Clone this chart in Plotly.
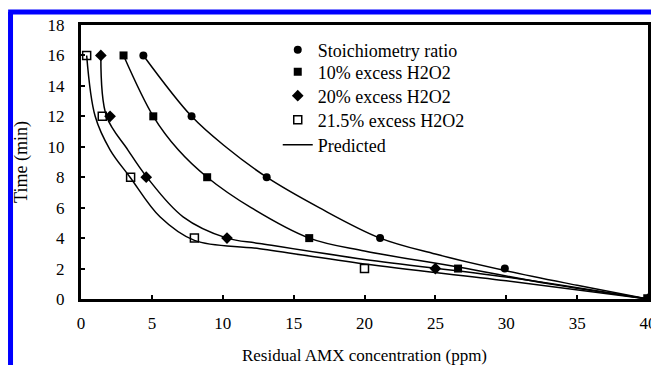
import plotly.graph_objects as go

# Measured data (residual AMX concentration in ppm, time in min)
stoich_c = [4.4, 7.8, 13.1, 21.1, 29.9, 40.0]
stoich_t = [16, 12, 8, 4, 2, 0]
ex10_c = [3.0, 5.1, 8.9, 16.1, 26.6, 40.0]
ex10_t = [16, 12, 8, 4, 2, 0]
ex20_c = [1.4, 2.05, 4.6, 10.3, 25.0, 40.0]
ex20_t = [16, 12, 8, 4, 2, 0]
ex215_c = [0.4, 1.5, 3.5, 8.0, 20.0, 40.0]
ex215_t = [16, 12, 8, 4, 2, 0]

# Predicted curves
pred_s_c = [4.4, 7.8, 10.2, 13.1, 16.8, 21.1, 25, 30, 35, 40]
pred_s_t = [16, 12, 10, 8, 6, 4, 2.95, 1.85, 0.9, 0]
pred_10_c = [3.0, 5.1, 6.86, 8.9, 12, 16.1, 20, 26.6, 33, 40]
pred_10_t = [16, 12, 9.8, 8, 6, 4, 3.15, 2.1, 1.0, 0]
pred_20_c = [1.4, 1.8, 3.3, 4.65, 7.2, 10.3, 12.6, 20, 30, 40]
pred_20_t = [16, 12, 9.8, 8, 5.4, 4.0, 3.65, 2.6, 1.45, 0]
pred_215_c = [0.4, 1.0, 2.05, 3.46, 5.57, 8.0, 12.6, 20, 30, 40]
pred_215_t = [16, 12, 9.8, 8, 5.4, 3.85, 3.3, 2.3, 1.2, 0]

x_ticks = [0, 5, 10, 15, 20, 25, 30, 35, 40]
y_ticks = [0, 2, 4, 6, 8, 10, 12, 14, 16, 18]

FONT = "Liberation Serif"

fig = go.Figure()

pred_sets = [(pred_s_c, pred_s_t), (pred_10_c, pred_10_t),
             (pred_20_c, pred_20_t), (pred_215_c, pred_215_t)]

fig.add_trace(go.Scatter(x=stoich_c, y=stoich_t, mode="markers", name="Stoichiometry ratio",
                         marker=dict(symbol="circle", size=8, color="black"),
                         legend="legend", showlegend=True))
fig.add_trace(go.Scatter(x=ex10_c, y=ex10_t, mode="markers", name="10% excess H2O2",
                         marker=dict(symbol="square", size=8, color="black"), legend="legend2"))
fig.add_trace(go.Scatter(x=ex20_c, y=ex20_t, mode="markers", name="20% excess H2O2",
                         marker=dict(symbol="diamond", size=9, color="black"), legend="legend3"))
fig.add_trace(go.Scatter(x=ex215_c, y=ex215_t, mode="markers", name="21.5% excess H2O2",
                         marker=dict(symbol="square-open", size=8, color="black",
                                     line=dict(width=1.5, color="black")), legend="legend4"))
for i, (cx, ty) in enumerate(pred_sets):
    fig.add_trace(go.Scatter(x=cx, y=ty, mode="lines", name="Predicted",
                             line=dict(color="black", width=1.5, shape="spline", smoothing=1.0),
                             showlegend=(i == 0), legend="legend5"))

axis_common = dict(showline=True, linewidth=3, linecolor="black", mirror=True,
                   ticks="inside", ticklen=4, tickwidth=2, tickcolor="black",
                   showgrid=False, zeroline=False, automargin=False,
                   ticklabeloverflow="allow",
                   tickfont=dict(family=FONT, size=17, color="black"))

fig.update_xaxes(range=[0, 40], tickvals=x_ticks, ticktext=[str(v) for v in x_ticks],
                 title=dict(text="Residual AMX concentration (ppm)",
                            font=dict(family=FONT, size=17, color="black"), standoff=26),
                 ticklabelstandoff=7, **axis_common)
fig.update_yaxes(range=[0, 18], tickvals=y_ticks, ticktext=[str(v) for v in y_ticks],
                 title=dict(text="Time (min)", font=dict(family=FONT, size=18, color="black"),
                            standoff=16),
                 ticklabelstandoff=10, **axis_common)

leg_rows = [50, 72, 96, 120, 145]  # pixel centres of legend rows
plot_top, plot_bottom = 25, 299
legends = {}
for k, row in enumerate(leg_rows):
    key = "legend" if k == 0 else f"legend{k + 1}"
    legends[key] = dict(x=0.347, y=(plot_bottom - row) / (plot_bottom - plot_top),
                        xanchor="left", yanchor="middle",
                        font=dict(family=FONT, size=18, color="black"),
                        bgcolor="rgba(0,0,0,0)", itemwidth=30)

fig.update_layout(
    width=651, height=365,
    margin=dict(l=81, r=3, t=25, b=66),
    paper_bgcolor="white", plot_bgcolor="white",
    showlegend=True,
    font=dict(family=FONT, color="black"),
    shapes=[
        dict(type="line", xref="paper", yref="paper", x0=-0.1243, y0=-0.3, x1=-0.1243, y1=1.0474,
             line=dict(color="#0000FF", width=5)),
        dict(type="line", xref="paper", yref="paper", x0=-0.1285, y0=1.0474, x1=1.2, y1=1.0474,
             line=dict(color="#0000FF", width=5)),
    ],
    **legends,
)

fig.write_html("out.html")
